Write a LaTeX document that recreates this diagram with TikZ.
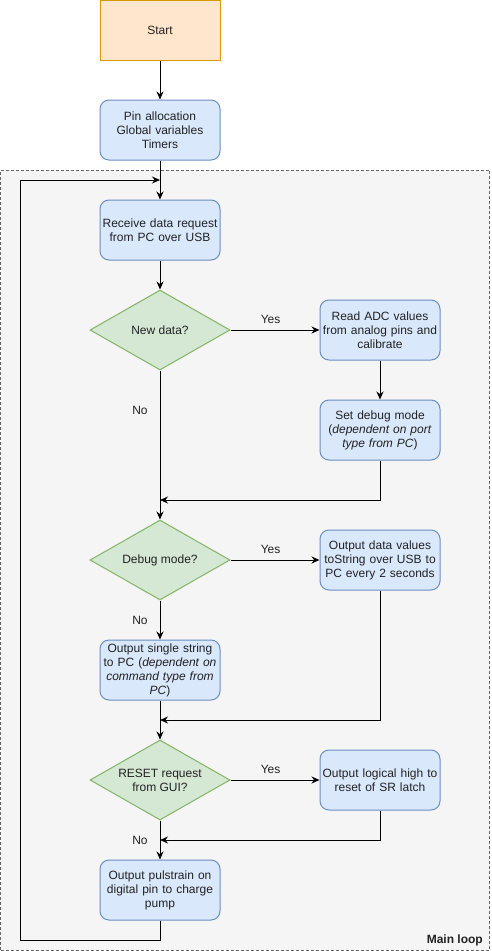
\documentclass[tikz,border=0pt]{standalone}
\usepackage{fontspec}
\setmainfont{Liberation Sans}
\usetikzlibrary{shapes.geometric,arrows.meta}
\definecolor{startfill}{HTML}{FFE6CC}
\definecolor{startline}{HTML}{D79B00}
\definecolor{procfill}{HTML}{DAE8FC}
\definecolor{procline}{HTML}{6C8EBF}
\definecolor{decfill}{HTML}{D5E8D4}
\definecolor{decline}{HTML}{82B366}
\definecolor{loopfill}{HTML}{F5F5F5}
\definecolor{loopline}{HTML}{666666}
\definecolor{txt}{HTML}{222222}
\tikzset{
  startbox/.style={draw=startline, fill=startfill, line width=1pt, minimum width=120pt, minimum height=60pt, inner sep=0pt, text=txt, font=\fontsize{12}{14}\selectfont},
  procbox/.style={draw=procline, fill=procfill, line width=1pt, rounded corners=9pt, minimum width=120pt, minimum height=60pt, inner sep=0pt, text width=116pt, align=center, text=txt, font=\fontsize{12}{14}\selectfont},
  decbox/.style={draw=decline, fill=decfill, line width=1pt, diamond, aspect=1.75, minimum width=140pt, minimum height=80pt, inner sep=0pt, align=center, text=txt, font=\fontsize{12}{14}\selectfont},
  conn/.style={line width=1pt, -{Stealth[length=8pt,width=7pt]}},
  plain/.style={line width=1pt},
  lbl/.style={text=txt, font=\fontsize{12}{14}\selectfont, inner sep=0pt},
}
\begin{document}
\begin{tikzpicture}[x=1pt,y=-1pt]
\useasboundingbox (0,0) rectangle (491,951);
% container
\node[draw=loopline, fill=loopfill, dashed, dash pattern=on 3pt off 2pt, line width=1pt, minimum width=489pt, minimum height=780pt, inner sep=0pt] (loop) at (245,560) {};
\node[anchor=south east, font=\fontsize{12}{14}\selectfont\bfseries, text=txt, inner sep=0pt] (looplbl) at (483,946) {Main loop};

\node[startbox] (start) at (160,30) {Start};
\node[procbox] (pin) at (160,130) {Pin allocation\\Global variables\\Timers};
\node[procbox] (recv) at (160,230) {Receive data request\\from PC over USB};
\node[decbox] (newd) at (160,330) {New data?};
\node[procbox] (adc) at (380,330) {Read ADC values\\from analog pins and\\calibrate};
\node[procbox] (setdbg) at (380,430) {Set debug mode\\(\textit{dependent on port}\\\textit{type from PC})};
\node[decbox] (dbg) at (160,560) {Debug mode?};
\node[procbox] (outdata) at (380,560) {Output data values\\toString over USB to\\PC every 2 seconds};
\node[procbox] (single) at (160,670) {Output single string\\to PC (\textit{dependent on}\\\textit{command type from}\\\textit{PC})};
\node[decbox] (reset) at (160,780) {RESET request\\from GUI?};
\node[procbox] (logic) at (380,780) {Output logical high to\\reset of SR latch};
\node[procbox] (pulse) at (160,890) {Output pulstrain on\\digital pin to charge\\pump};

\coordinate (m1) at (160,500);
\coordinate (m2) at (160,720);
\coordinate (m3) at (160,840);
\coordinate (lp) at (160,180);
\coordinate (lb) at (160,940);

\draw[conn] (start) -- (pin);
\draw[conn] (pin) -- (recv);
\draw[conn] (recv) -- (newd);
\draw[conn] (newd) -- node[lbl, above=6pt, pos=0.45] (y1) {Yes} (adc);
\draw[conn] (adc) -- (setdbg);
\draw[conn] (newd) -- (dbg);
\node[lbl] (n1) at (140,410) {No};
\draw[conn] (setdbg.south) |- (m1);
\draw[conn] (dbg) -- node[lbl, above=6pt, pos=0.45] (y2) {Yes} (outdata);
\draw[conn] (dbg) -- (single);
\node[lbl] (n2) at (140,620) {No};
\draw[conn] (outdata.south) |- (m2);
\draw[conn] (single) -- (reset);
\draw[conn] (reset) -- node[lbl, above=6pt, pos=0.45] (y3) {Yes} (logic);
\draw[conn] (reset) -- (pulse);
\node[lbl] (n3) at (140,840) {No};
\draw[conn] (logic.south) |- (m3);
\draw[conn] (pulse.south) -- (lb) -| (20,180) -- (lp);
\end{tikzpicture}
\end{document}
